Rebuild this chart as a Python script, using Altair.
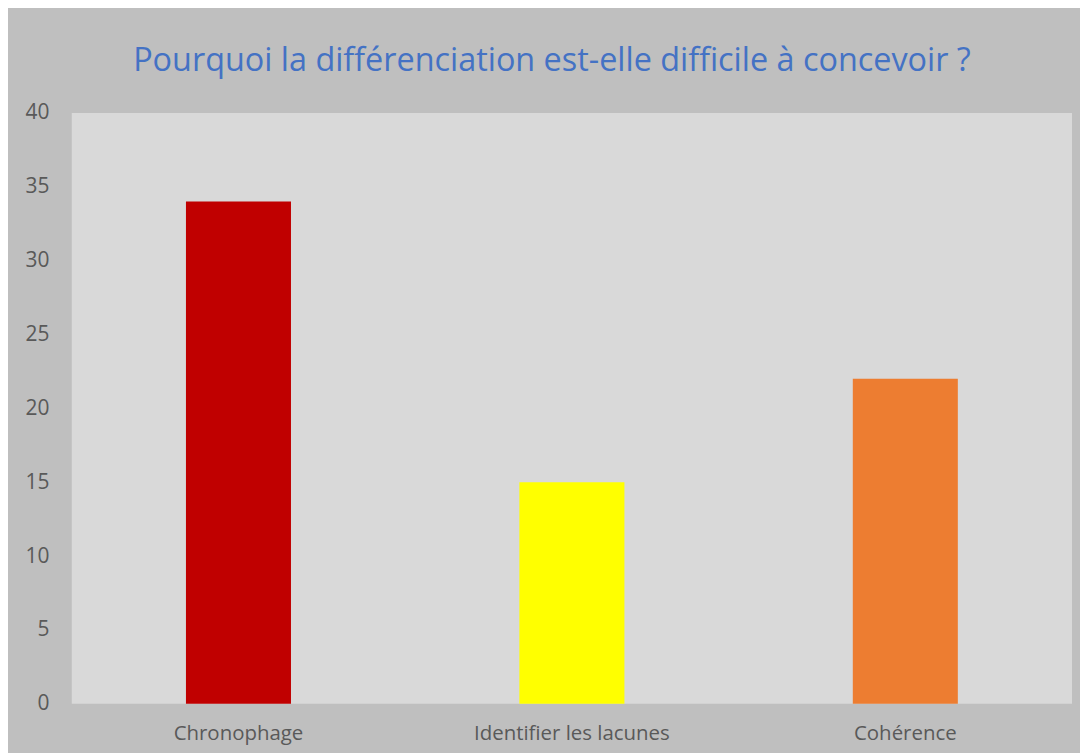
import altair as alt
import pandas as pd

categories = ["Chronophage", "Identifier les lacunes", "Cohérence"]
values = [34, 15, 22]
colors = ["#c00000", "#ffff00", "#ed7d31"]
title_text = "Pourquoi la différenciation est-elle difficile à concevoir ?"

df = pd.DataFrame({"cat": categories, "val": values})

FONT = "Open Sans"

chart = alt.Chart(df).mark_bar().encode(
    x=alt.X("cat:N", sort=categories,
            scale=alt.Scale(paddingInner=0.685, paddingOuter=0.3425),
            axis=alt.Axis(title=None, labelAngle=0, labelFontSize=20.5, labelColor="#595959",
                          labelFont=FONT, labelPadding=20, labelLimit=400,
                          ticks=False, domain=False)),
    y=alt.Y("val:Q", scale=alt.Scale(domain=[0, 40]),
            axis=alt.Axis(title=None, values=list(range(0, 41, 5)), labelFontSize=21,
                          labelColor="#595959", labelFont=FONT, labelPadding=23,
                          ticks=False, domain=False, grid=False)),
    color=alt.Color("cat:N", scale=alt.Scale(domain=categories, range=colors), legend=None),
).properties(
    width=1004,
    height=593,
    title=alt.TitleParams(title_text, fontSize=32.5, color="#4472c4", font=FONT,
                          fontWeight="normal", anchor="middle", dx=-20, offset=25),
    autosize=alt.AutoSizeParams(type="none"),
    padding={"left": 64, "top": 104, "right": 8, "bottom": 48},
    background="#bfbfbf",
).configure_view(fill="#d9d9d9", stroke=None)

chart.save("out.html", embed_options={"renderer": "svg", "actions": False})
